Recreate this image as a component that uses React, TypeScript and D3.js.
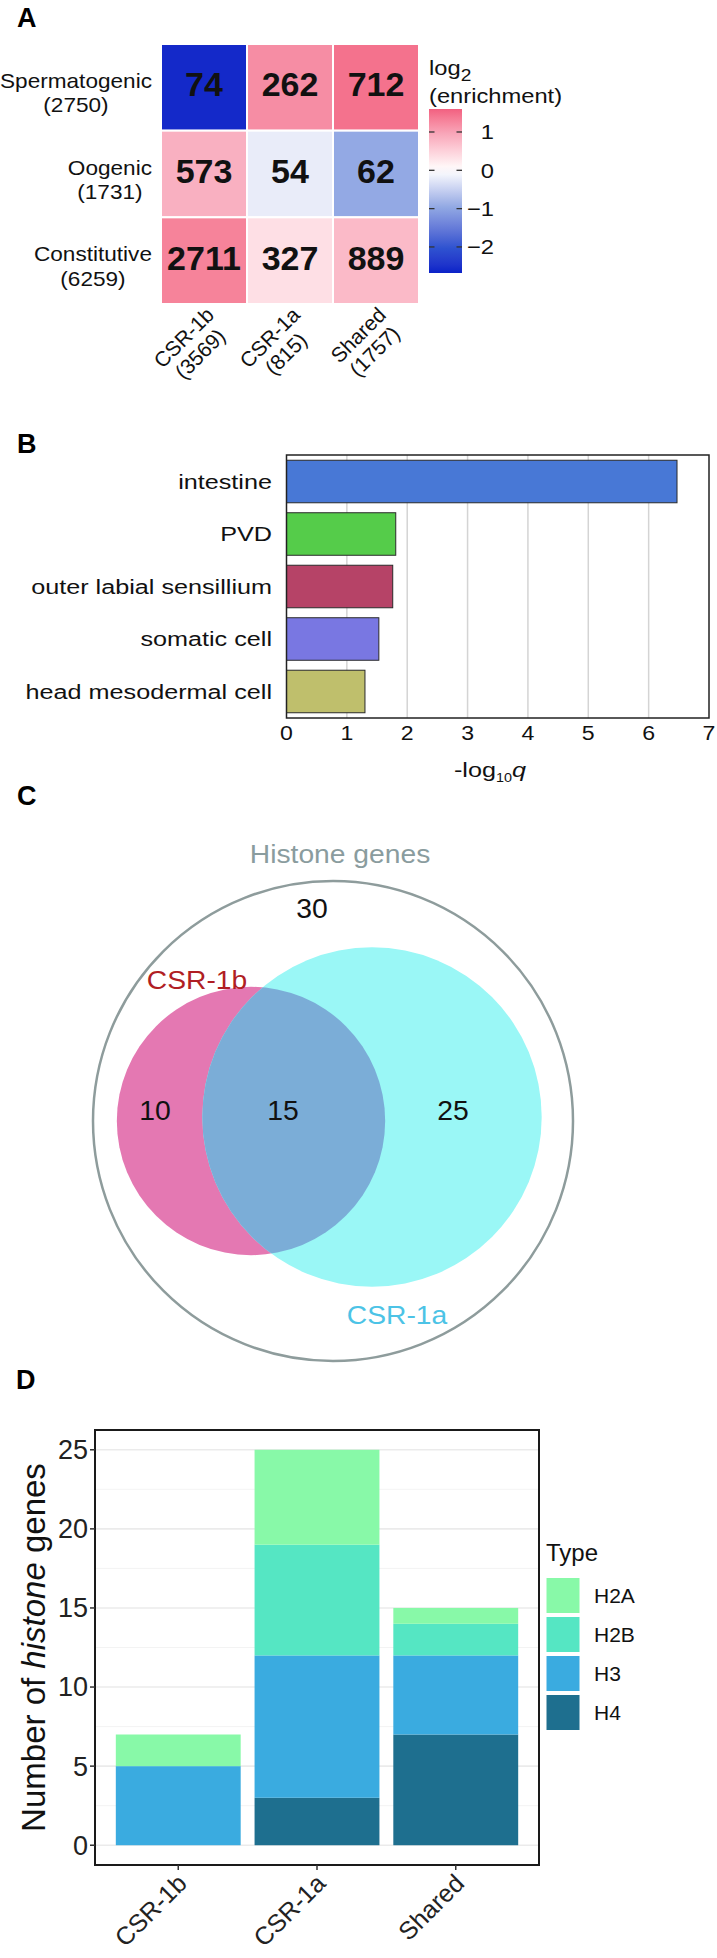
import React, { useMemo } from 'react';
import * as d3 from 'd3';

const FONT = '"Liberation Sans", Arial, Helvetica, sans-serif';

// ---------- Panel A data ----------
const rowNames = ['Spermatogenic', 'Oogenic', 'Constitutive'];
const rowTotals = [2750, 1731, 6259];
const colNames = ['CSR-1b', 'CSR-1a', 'Shared'];
const colTotals = [3569, 815, 1757];
const overlapCounts = [
  [74, 262, 712],
  [573, 54, 62],
  [2711, 327, 889],
];
const log2Enrichment = [
  [-2.6, 1.2, 1.45],
  [0.85, -0.2, -0.95],
  [1.3, 0.35, 0.75],
];
const legendTicks = [1, 0, -1, -2];
const legendLimits = [-2.68, 1.6];

// ---------- Panel B data ----------
const tissues = ['intestine', 'PVD', 'outer labial sensillium', 'somatic cell', 'head mesodermal cell'];
const negLog10q = [6.47, 1.81, 1.76, 1.53, 1.3];
const tissueColors = ['#4878D6', '#55CC4A', '#B64367', '#7977E2', '#BFBF6C'];
const qTicks = [0, 1, 2, 3, 4, 5, 6, 7];

// ---------- Panel C data ----------
const vennOnlyB = 10;
const vennBoth = 15;
const vennOnlyA = 25;
const vennNeither = 30;

// ---------- Panel D data ----------
const histCats = ['CSR-1b', 'CSR-1a', 'Shared'];
const histTypes = ['H2A', 'H2B', 'H3', 'H4'];
const h2a = [2, 6, 1];
const h2b = [0, 7, 2];
const h3 = [5, 9, 5];
const h4 = [0, 3, 7];
const typeColors = ['#88F9A8', '#55E6C3', '#3AABE0', '#1E6F8F'];
const countTicks = [0, 5, 10, 15, 20, 25];

let _ctx: CanvasRenderingContext2D | null = null;
function measure(text: string, size: number, weight = 'normal') {
  if (!_ctx) _ctx = document.createElement('canvas').getContext('2d');
  if (!_ctx) return text.length * size * 0.55;
  _ctx.font = `${weight} ${size}px "Liberation Sans", Arial, sans-serif`;
  return _ctx.measureText(text).width;
}

function Txt(props: any) {
  const { x, y, sx = 1, rot = 0, anchor = 'start', size, weight = 'normal', fill = '#000', fstyle, children, dy } = props;
  return (
    <g transform={`translate(${x},${y})${rot ? ` rotate(${rot})` : ''} scale(${sx},1)`}>
      <text textAnchor={anchor} fontSize={size} fontWeight={weight} fill={fill} fontFamily={FONT} fontStyle={fstyle} dy={dy}>
        {children}
      </text>
    </g>
  );
}

export default function App() {
  const W = 717;
  const H = 1958;

  // ---------- Panel A ----------
  const heatColor = d3
    .scaleLinear<string>()
    .domain([-2.68, -2, -1, 0, 1, 1.6])
    .range(['#0A22C8', '#2F55D0', '#8DA5E2', '#FFFFFF', '#F7A2B6', '#F26080'])
    .interpolate(d3.interpolateLab)
    .clamp(true);
  const xA = d3.scaleBand<string>().domain(colNames).range([161, 419]);
  const yA = d3.scaleBand<string>().domain(rowNames).range([44, 304]);
  const sxA = 1.13;
  const legY = d3.scaleLinear().domain([legendLimits[1], legendLimits[0]]).range([109, 273]);
  const gradStops = d3.range(0, 21).map((i) => {
    const v = legendLimits[1] - (i / 20) * (legendLimits[1] - legendLimits[0]);
    return { off: i / 20, c: heatColor(v) };
  });

  // ---------- Panel B ----------
  const xB = d3.scaleLinear().domain([0, 7]).range([286.5, 709]);
  const yB = d3.scaleBand<string>().domain(tissues).range([455, 718]).paddingInner(0.19).paddingOuter(0.1);
  const sxB = 1.2;

  // ---------- Panel C ----------
  const totalGenes = vennNeither + vennOnlyB + vennBoth + vennOnlyA;
  const rScale = d3.scaleSqrt().domain([0, totalGenes]).range([0, 240]);
  const rOuter = rScale(totalGenes);
  const rB = rScale(vennOnlyB + vennBoth);
  const rA = rScale(vennOnlyA + vennBoth);
  const outerC = { x: 333, y: 1121 };
  const cB = { x: 251, y: 1121 };
  const cA = { x: 372, y: 1117 };
  const sxC = 1.13;

  // ---------- Panel D ----------
  const dTop = 1430;
  const dBottom = 1865;
  const xD = d3.scaleBand<string>().domain(histCats).range([95, 539]).paddingInner(0.1).paddingOuter(0.15);
  const yD = d3.scaleLinear().domain([-1.25, 26.25]).range([dBottom, dTop]);
  const stackData = histCats.map((c, i) => ({ cat: c, H2A: h2a[i], H2B: h2b[i], H3: h3[i], H4: h4[i] }));
  const stacked = d3.stack<any>().keys(['H4', 'H3', 'H2B', 'H2A'])(stackData);
  const typeColor = d3.scaleOrdinal<string, string>().domain(histTypes).range(typeColors);
  const minorTicks = d3.range(2.5, 25, 5);
  const dMid = (dTop + dBottom) / 2;

  const rowLabelInfo = useMemo(
    () =>
      rowNames.map((n, i) => {
        const lines = [n, `(${rowTotals[i]})`];
        const w = Math.max(...lines.map((l) => measure(l, 20))) * sxA;
        return { lines, w };
      }),
    []
  );
  const colLabelInfo = useMemo(
    () =>
      colNames.map((n, i) => {
        const lines = [n, `(${colTotals[i]})`];
        const w = Math.max(...lines.map((l) => measure(l, 21)));
        return { lines, w };
      }),
    []
  );

  return (
    <svg width={W} height={H} style={{ position: 'absolute', left: 0, top: 0, background: '#fff' }} fontFamily={FONT}>
      <rect x={0} y={0} width={W} height={H} fill="#fff" />
      <defs>
        <linearGradient id="legGrad" x1="0" y1="0" x2="0" y2="1">
          {gradStops.map((s, i) => (
            <stop key={i} offset={s.off} stopColor={s.c} />
          ))}
        </linearGradient>
        <clipPath id="clipA">
          <circle cx={cA.x} cy={cA.y} r={rA} />
        </clipPath>
      </defs>

      {/* ===== Panel A ===== */}
      <Txt x={17} y={27} size={27} weight="bold">A</Txt>
      {rowNames.map((r, i) =>
        colNames.map((c, j) => (
          <g key={`${r}-${c}`}>
            <rect
              x={xA(c)}
              y={yA(r)}
              width={xA.bandwidth()}
              height={yA.bandwidth()}
              fill={heatColor(log2Enrichment[i][j])}
              stroke="#fff"
              strokeWidth={2}
            />
            <text
              x={(xA(c) as number) + xA.bandwidth() / 2}
              y={(yA(r) as number) + yA.bandwidth() / 2 + 9}
              textAnchor="middle"
              fontSize={34}
              fontWeight="bold"
              fill="#111"
            >
              {overlapCounts[i][j]}
            </text>
          </g>
        ))
      )}
      {rowNames.map((r, i) => {
        const cy = (yA(r) as number) + yA.bandwidth() / 2;
        const info = rowLabelInfo[i];
        const xc = 152 - info.w / 2;
        return (
          <g key={r}>
            <Txt x={xc} y={cy + 0.5} sx={sxA} size={20} anchor="middle" fill="#111">{info.lines[0]}</Txt>
            <Txt x={xc} y={cy + 25} sx={sxA} size={20} anchor="middle" fill="#111">{info.lines[1]}</Txt>
          </g>
        );
      })}
      {colNames.map((c, i) => {
        const cx = (xA(c) as number) + xA.bandwidth() / 2;
        const info = colLabelInfo[i];
        return (
          <g key={c} transform={`translate(${cx},305) rotate(-45)`}>
            <text x={-info.w / 2} y={16} textAnchor="middle" fontSize={21} fill="#111">{info.lines[0]}</text>
            <text x={-info.w / 2} y={39} textAnchor="middle" fontSize={21} fill="#111">{info.lines[1]}</text>
          </g>
        );
      })}
      {/* legend */}
      <g transform={`translate(429,75) scale(${sxA},1)`}>
        <text fontSize={21} fill="#111">
          log<tspan fontSize={17} dy={6}>2</tspan>
        </text>
      </g>
      <Txt x={429} y={103} sx={sxA} size={21} fill="#111">(enrichment)</Txt>
      <rect x={429} y={legY(legendLimits[1])} width={33} height={legY(legendLimits[0]) - legY(legendLimits[1])} fill="url(#legGrad)" />
      {legendTicks.map((t) => (
        <g key={t}>
          <line x1={429} x2={434.5} y1={legY(t)} y2={legY(t)} stroke="#333" strokeWidth={1.3} />
          <line x1={456.5} x2={462} y1={legY(t)} y2={legY(t)} stroke="#333" strokeWidth={1.3} />
          <Txt x={494} y={legY(t)} sx={sxA} size={21} anchor="end" dy="0.35em" fill="#111">
            {t < 0 ? `\u2212${Math.abs(t)}` : `${t}`}
          </Txt>
        </g>
      ))}

      {/* ===== Panel B ===== */}
      <Txt x={17} y={453} size={27} weight="bold">B</Txt>
      {qTicks.slice(1, -1).map((t) => (
        <line key={t} x1={xB(t)} x2={xB(t)} y1={455} y2={718} stroke="#D4D4D4" strokeWidth={1.5} />
      ))}
      {tissues.map((t, i) => (
        <rect
          key={t}
          x={xB(0)}
          y={yB(t)}
          width={xB(negLog10q[i]) - xB(0)}
          height={yB.bandwidth()}
          fill={tissueColors[i]}
          stroke="#2a2a2a"
          strokeWidth={1}
        />
      ))}
      <rect x={xB(0)} y={455} width={xB(7) - xB(0)} height={263} fill="none" stroke="#222" strokeWidth={1.5} />
      {tissues.map((t) => (
        <Txt key={t} x={272} y={(yB(t) as number) + yB.bandwidth() / 2} sx={sxB} size={21} anchor="end" dy="0.35em" fill="#111">
          {t}
        </Txt>
      ))}
      {qTicks.map((t) => (
        <Txt key={t} x={xB(t)} y={740} sx={1.1} size={21} anchor="middle" fill="#111">{t}</Txt>
      ))}
      <g transform={`translate(490,777) scale(${sxB},1)`}>
        <text textAnchor="middle" fontSize={21} fill="#111">
          -log<tspan fontSize={12} dy={5}>10</tspan>
          <tspan fontStyle="italic" dy={-5}>q</tspan>
        </text>
      </g>

      {/* ===== Panel C ===== */}
      <Txt x={17} y={805} size={27} weight="bold">C</Txt>
      <Txt x={340} y={863} sx={sxC} size={25} anchor="middle" fill="#8A9C9E">Histone genes</Txt>
      <circle cx={outerC.x} cy={outerC.y} r={rOuter} fill="none" stroke="#8E9C9C" strokeWidth={2.5} />
      <circle cx={cB.x} cy={cB.y} r={rB} fill="#E478B2" />
      <circle cx={cA.x} cy={cA.y} r={rA} fill="#9AF7F6" />
      <circle cx={cB.x} cy={cB.y} r={rB} fill="#7BADD7" clipPath="url(#clipA)" />
      <Txt x={312} y={918} sx={1.05} size={27} anchor="middle" fill="#111">{vennNeither}</Txt>
      <Txt x={197} y={989} sx={sxC} size={25} anchor="middle" fill="#B01E24">CSR-1b</Txt>
      <Txt x={155} y={1120} sx={1.05} size={27} anchor="middle" fill="#111">{vennOnlyB}</Txt>
      <Txt x={283} y={1120} sx={1.05} size={27} anchor="middle" fill="#111">{vennBoth}</Txt>
      <Txt x={453} y={1120} sx={1.05} size={27} anchor="middle" fill="#111">{vennOnlyA}</Txt>
      <Txt x={397} y={1324} sx={sxC} size={25} anchor="middle" fill="#4CC3E6">CSR-1a</Txt>

      {/* ===== Panel D ===== */}
      <Txt x={16} y={dTop - 41} size={27} weight="bold">D</Txt>
      {minorTicks.map((t) => (
        <line key={`m${t}`} x1={95} x2={539} y1={yD(t)} y2={yD(t)} stroke="#F2F2F2" strokeWidth={0.9} />
      ))}
      {countTicks.map((t) => (
        <line key={`g${t}`} x1={95} x2={539} y1={yD(t)} y2={yD(t)} stroke="#EBEBEB" strokeWidth={1.6} />
      ))}
      {stacked.map((layer) =>
        layer.map((d: any) => (
          <rect
            key={`${layer.key}-${d.data.cat}`}
            x={xD(d.data.cat)}
            y={yD(d[1])}
            width={xD.bandwidth()}
            height={Math.max(0, yD(d[0]) - yD(d[1]))}
            fill={typeColor(layer.key)}
          />
        ))
      )}
      <rect x={95} y={dTop} width={444} height={dBottom - dTop} fill="none" stroke="#1a1a1a" strokeWidth={2} />
      {countTicks.map((t) => (
        <g key={`t${t}`}>
          <line x1={90} x2={95} y1={yD(t)} y2={yD(t)} stroke="#333" strokeWidth={1.5} />
          <text x={88} y={yD(t)} dy="0.35em" textAnchor="end" fontSize={27} fill="#222">{t}</text>
        </g>
      ))}
      {histCats.map((c) => {
        const cx = (xD(c) as number) + xD.bandwidth() / 2;
        return (
          <g key={c}>
            <line x1={cx} x2={cx} y1={dBottom} y2={dBottom + 5} stroke="#333" strokeWidth={1.5} />
            <text transform={`translate(${cx + 10},${dBottom + 20}) rotate(-45)`} textAnchor="end" fontSize={25} fill="#222">{c}</text>
          </g>
        );
      })}
      <text transform={`translate(45,${dMid}) rotate(-90)`} textAnchor="middle" fontSize={33} fill="#111">
        Number of <tspan fontStyle="italic">histone</tspan> genes
      </text>
      <text x={546} y={dMid - 87} fontSize={24} fill="#111">Type</text>
      {histTypes.map((t, i) => (
        <g key={t}>
          <rect x={546} y={dMid - 70 + i * 39} width={34} height={36} fill={typeColor(t)} stroke="#fff" strokeWidth={1} />
          <text x={594} y={dMid - 70 + i * 39 + 18} dy="0.35em" fontSize={21} fill="#111">{t}</text>
        </g>
      ))}
    </svg>
  );
}
